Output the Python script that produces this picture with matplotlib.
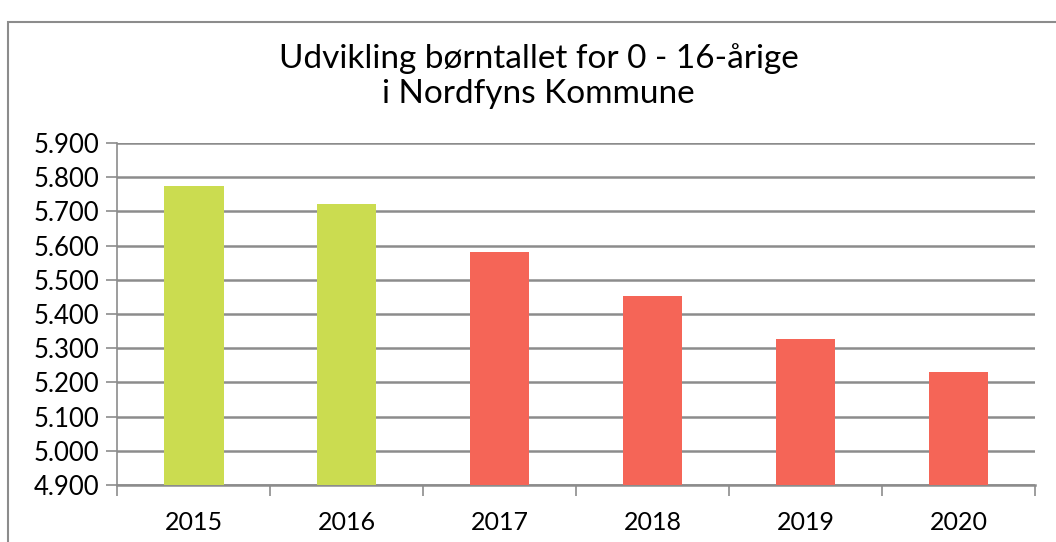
import matplotlib.pyplot as plt
from matplotlib.patches import Rectangle
from matplotlib.ticker import FuncFormatter, FixedLocator
import numpy as np

years = ["2015", "2016", "2017", "2018", "2019", "2020"]
children = [5774, 5722, 5581, 5452, 5326, 5231]
bar_colors = ["#CBDC50", "#CBDC50", "#F56557", "#F56557", "#F56557", "#F56557"]

plt.rcParams['font.family'] = ['Lato', 'DejaVu Sans']

fig = plt.figure(figsize=(10.56, 5.42), dpi=100)
ax = fig.add_axes([0.111, 0.105, 0.869, 0.631])

x = np.arange(len(years))
ax.bar(x, np.array(children) - 4900, bottom=4900, width=0.39, color=bar_colors, zorder=3)

ax.set_ylim(4900, 5900)
ax.set_xlim(-0.5, len(years) - 0.5)
ax.set_yticks(np.arange(4900, 5901, 100))
ax.yaxis.set_major_formatter(FuncFormatter(lambda v, p: f"{v/1000:.3f}"))
ax.grid(axis="y", color="#8c8c8c", linewidth=1.8, zorder=0)

ax.set_xticks(x)
ax.set_xticklabels(years)
ax.xaxis.set_minor_locator(FixedLocator(np.arange(-0.5, len(years), 1.0)))
ax.tick_params(axis="x", which="major", length=0, pad=19, labelsize=18)
ax.tick_params(axis="x", which="minor", length=8, color="#8c8c8c", width=1.2)
ax.tick_params(axis="y", length=8, color="#8c8c8c", width=1.2, labelsize=18.5, pad=5)

for s in ["top", "right"]:
    ax.spines[s].set_visible(False)
ax.spines["left"].set_color("#8c8c8c")
ax.spines["bottom"].set_color("#8c8c8c")
ax.spines["left"].set_linewidth(1.2)
ax.spines["bottom"].set_linewidth(1.8)

fig.text(0.51, 1 - 76 / 542, "Udvikling børntallet for 0 - 16-årige\ni Nordfyns Kommune",
         ha="center", va="center", fontsize=24, linespacing=1.2)

fig.patches.append(Rectangle((8 / 1056, -0.1), 1.2, 1.1 - 22 / 542,
                             transform=fig.transFigure, fill=False,
                             edgecolor="#8c8c8c", linewidth=1.5, clip_on=False))

fig.savefig("out.png", dpi=100)
